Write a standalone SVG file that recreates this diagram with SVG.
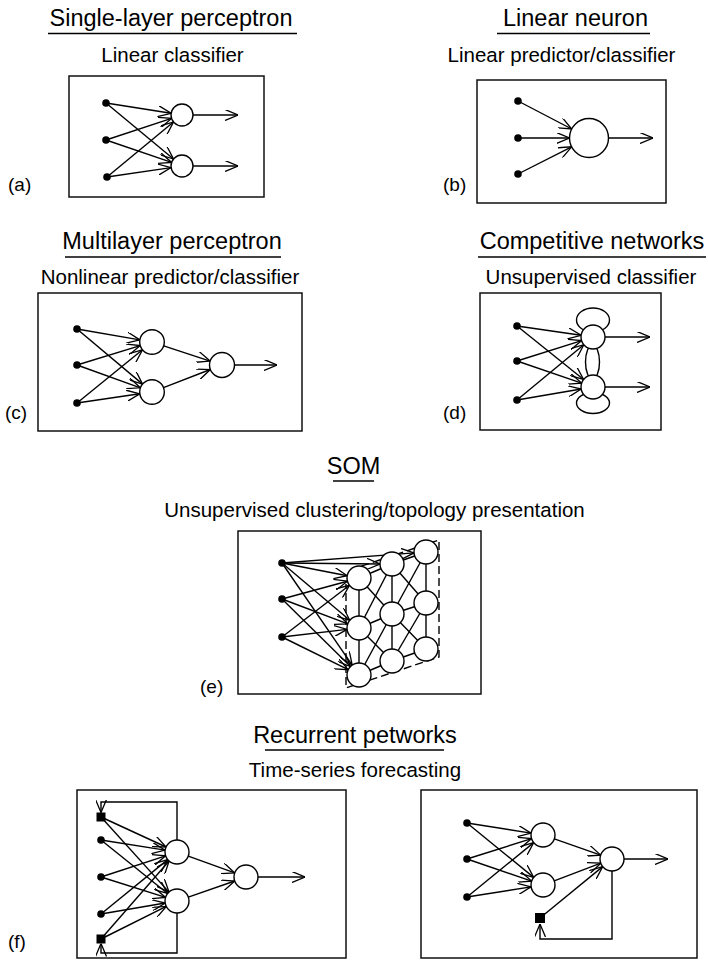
<svg xmlns="http://www.w3.org/2000/svg" width="708" height="969" viewBox="0 0 708 969">
<style>
text{font-family:"Liberation Sans",Arial,sans-serif;fill:#000}
.t{font-size:23.5px;text-anchor:middle}
.s{font-size:20.5px;text-anchor:middle}
.l{font-size:19px}
.ul{stroke:#000;stroke-width:1.3}
.box{fill:#fff;stroke:#111;stroke-width:1.5}
.c{fill:#fff;stroke:#000;stroke-width:1.4}
.d{fill:#000}
.e line,.e path{stroke:#000;stroke-width:1.4;fill:none}
.a{marker-end:url(#ah)}
.dash{stroke:#000;stroke-width:1.8;fill:none;stroke-dasharray:8 4}
</style>
<defs>
<marker id="ah" markerUnits="userSpaceOnUse" viewBox="0 0 13 11" markerWidth="13" markerHeight="11" refX="13" refY="5.5" orient="auto">
<path d="M0,0 L13,5.5 L0,11" fill="none" stroke="#000" stroke-width="1.3"/>
</marker>
</defs>
<rect width="708" height="969" fill="#fff"/>

<!-- titles -->
<g id="titles">
<text class="t" x="171" y="26">Single-layer perceptron</text>
<line class="ul" x1="48" y1="33.5" x2="297" y2="33.5"/>
<text class="s" x="172.5" y="62">Linear classifier</text>
<text class="t" x="575.5" y="26">Linear neuron</text>
<line class="ul" x1="497" y1="33.5" x2="650" y2="33.5"/>
<text class="s" x="561.5" y="62">Linear predictor/classifier</text>
<text class="t" x="172" y="249">Multilayer perceptron</text>
<line class="ul" x1="65" y1="257" x2="281" y2="257"/>
<text class="s" x="170" y="284">Nonlinear predictor/classifier</text>
<text class="t" x="592" y="249">Competitive networks</text>
<line class="ul" x1="478" y1="257" x2="706" y2="257"/>
<text class="s" x="591" y="284">Unsupervised classifier</text>
<text class="t" x="353.5" y="474">SOM</text>
<line class="ul" x1="333" y1="481" x2="374" y2="481"/>
<text class="s" x="374.5" y="517">Unsupervised clustering/topology presentation</text>
<text class="t" x="355" y="743">Recurrent petworks</text>
<line class="ul" x1="265" y1="750" x2="444" y2="750"/>
<text class="s" x="355" y="777">Time-series forecasting</text>
<text class="l" x="8" y="191">(a)</text>
<text class="l" x="443" y="191">(b)</text>
<text class="l" x="5" y="419">(c)</text>
<text class="l" x="443" y="419">(d)</text>
<text class="l" x="200" y="693">(e)</text>
<text class="l" x="8" y="948">(f)</text>
</g>

<!-- boxes -->
<g id="boxes">
<rect class="box" x="69" y="76" width="195" height="121"/>
<rect class="box" x="477" y="80" width="189" height="123"/>
<rect class="box" x="38" y="293" width="264" height="138"/>
<rect class="box" x="480" y="293" width="181" height="137"/>
<rect class="box" x="238" y="531" width="243" height="163"/>
<rect class="box" x="77" y="790" width="269" height="168"/>
<rect class="box" x="421" y="790" width="276" height="168"/>
</g>

<!-- connectors -->
<g id="connectors" class="e">
<!-- (a) -->
<line class="a" x1="106" y1="103" x2="171.1" y2="113.3"/>
<line class="a" x1="106" y1="103" x2="173.5" y2="159"/>
<line class="a" x1="106" y1="140" x2="171.5" y2="118.4"/>
<line class="a" x1="106" y1="140" x2="171.6" y2="162.4"/>
<line class="a" x1="107" y1="177" x2="173.5" y2="122"/>
<line class="a" x1="107" y1="177" x2="171.1" y2="167.6"/>
<line class="a" x1="193" y1="115" x2="238" y2="115"/>
<line class="a" x1="193" y1="166" x2="238" y2="166"/>
<!-- (b) -->
<line class="a" x1="518" y1="101" x2="571.7" y2="129"/>
<line class="a" x1="518" y1="138" x2="569.5" y2="138"/>
<line class="a" x1="518" y1="174" x2="571.6" y2="146.8"/>
<line class="a" x1="608.5" y1="138" x2="653" y2="138"/>
<!-- (c) -->
<line class="a" x1="77" y1="329" x2="139.9" y2="339.9"/>
<line class="a" x1="77" y1="329" x2="142.6" y2="384.1"/>
<line class="a" x1="77" y1="365" x2="140.2" y2="345.6"/>
<line class="a" x1="77" y1="365" x2="140.4" y2="387.8"/>
<line class="a" x1="77" y1="403" x2="142.5" y2="349.8"/>
<line class="a" x1="77" y1="403" x2="139.8" y2="393.8"/>
<line class="a" x1="163.7" y1="345.8" x2="210.1" y2="361.1"/>
<line class="a" x1="163.5" y1="387.6" x2="210.3" y2="369.5"/>
<line class="a" x1="234.5" y1="365" x2="277" y2="365"/>
<!-- (d) -->
<ellipse cx="593" cy="320" rx="16.5" ry="12" fill="none" stroke="#000" stroke-width="1.4"/>
<ellipse cx="593" cy="403" rx="16.5" ry="10.5" fill="none" stroke="#000" stroke-width="1.4"/>
<ellipse cx="592.5" cy="362" rx="7" ry="17" fill="none" stroke="#000" stroke-width="1.4"/>
<line class="a" x1="517" y1="326" x2="581.1" y2="335.3"/>
<line class="a" x1="517" y1="326" x2="583.6" y2="379.5"/>
<line class="a" x1="517" y1="361" x2="581.6" y2="340.6"/>
<line class="a" x1="517" y1="361" x2="581.6" y2="383.1"/>
<line class="a" x1="517" y1="400" x2="583.8" y2="344.7"/>
<line class="a" x1="517" y1="400" x2="581.2" y2="389"/>
<line class="a" x1="605" y1="337" x2="650" y2="337"/>
<line class="a" x1="605" y1="387" x2="650" y2="387"/>
<!-- (e) dashed outline -->
<path class="dash" d="M350,570 L439,540 L439,657 L346,688 L346,584"/>
<!-- (e) grid -->
<line x1="359" y1="578" x2="359" y2="675"/>
<line x1="392" y1="564" x2="392" y2="661"/>
<line x1="426" y1="552" x2="426" y2="649"/>
<line x1="359" y1="578" x2="392" y2="564"/>
<line x1="359" y1="628" x2="392" y2="614"/>
<line x1="359" y1="675" x2="392" y2="661"/>
<line x1="392" y1="564" x2="426" y2="552"/>
<line x1="392" y1="614" x2="426" y2="603"/>
<line x1="392" y1="661" x2="426" y2="649"/>
<line x1="359" y1="578" x2="392" y2="614"/>
<line x1="359" y1="628" x2="392" y2="564"/>
<line x1="359" y1="628" x2="392" y2="661"/>
<line x1="359" y1="675" x2="392" y2="614"/>
<line x1="392" y1="564" x2="426" y2="603"/>
<line x1="392" y1="614" x2="426" y2="552"/>
<line x1="392" y1="614" x2="426" y2="649"/>
<line x1="392" y1="661" x2="426" y2="603"/>
<!-- (e) inputs -->
<line class="a" x1="282" y1="563" x2="347.2" y2="575.7"/>
<line class="a" x1="282" y1="563" x2="349.8" y2="620.3"/>
<line class="a" x1="282" y1="563" x2="352.2" y2="665.1"/>
<line class="a" x1="282" y1="563" x2="380" y2="564"/>
<line class="a" x1="282" y1="563" x2="414" y2="552.9"/>
<line class="a" x1="282" y1="599" x2="347.4" y2="581.2"/>
<line class="a" x1="282" y1="599" x2="347.8" y2="623.8"/>
<line class="a" x1="282" y1="599" x2="350.5" y2="666.6"/>
<line class="a" x1="282" y1="637" x2="349.5" y2="585.3"/>
<line class="a" x1="282" y1="637" x2="347.1" y2="629.4"/>
<line class="a" x1="282" y1="637" x2="348.2" y2="669.7"/>
<!-- (f) left -->
<path class="a" d="M177,840 L177,802 L101,802 L101,812.5"/>
<path class="a" d="M177,913 L177,953 L101,953 L101,943.5"/>
<line class="a" x1="101" y1="817" x2="166.1" y2="847"/>
<line class="a" x1="101" y1="817" x2="169" y2="892.1"/>
<line class="a" x1="101" y1="840" x2="165.1" y2="850.1"/>
<line class="a" x1="101" y1="840" x2="167.6" y2="893.5"/>
<line class="a" x1="101" y1="877" x2="165.6" y2="855.8"/>
<line class="a" x1="101" y1="877" x2="165.6" y2="897.4"/>
<line class="a" x1="101" y1="914" x2="167.7" y2="859.6"/>
<line class="a" x1="101" y1="914" x2="165.2" y2="903"/>
<line class="a" x1="101" y1="939" x2="169.1" y2="861"/>
<line class="a" x1="101" y1="939" x2="166.3" y2="906.4"/>
<line class="a" x1="188.3" y1="856.1" x2="234.7" y2="872.9"/>
<line class="a" x1="188.3" y1="897.1" x2="234.7" y2="881"/>
<line class="a" x1="258" y1="877" x2="305" y2="877"/>
<!-- (f) right -->
<line class="a" x1="467" y1="823" x2="531.1" y2="833.1"/>
<line class="a" x1="467" y1="823" x2="533.7" y2="877.4"/>
<line class="a" x1="467" y1="859" x2="531.6" y2="838.6"/>
<line class="a" x1="467" y1="859" x2="531.6" y2="881.1"/>
<line class="a" x1="467" y1="897" x2="533.7" y2="842.6"/>
<line class="a" x1="467" y1="897" x2="531.1" y2="886.9"/>
<line class="a" x1="554.3" y1="838.9" x2="600.7" y2="855.1"/>
<line class="a" x1="554.2" y1="880.8" x2="600.8" y2="863.2"/>
<line class="a" x1="540" y1="918" x2="602.7" y2="866.6"/>
<path class="a" d="M612,871 L612,939 L540,939 L540,924"/>
<line class="a" x1="624" y1="859" x2="668" y2="859"/>
</g>

<!-- nodes -->
<g id="panel-a">
<circle class="d" cx="106" cy="103" r="3.8"/><circle class="d" cx="106" cy="140" r="3.8"/><circle class="d" cx="107" cy="177" r="3.8"/>
<circle class="c" cx="182" cy="115" r="11"/><circle class="c" cx="182" cy="166" r="11"/>
</g>
<g id="panel-b">
<circle class="d" cx="518" cy="101" r="3.8"/><circle class="d" cx="518" cy="138" r="3.8"/><circle class="d" cx="518" cy="174" r="3.8"/>
<circle class="c" cx="589" cy="138" r="19.5"/>
</g>
<g id="panel-c">
<circle class="d" cx="77" cy="329" r="3.8"/><circle class="d" cx="77" cy="365" r="3.8"/><circle class="d" cx="77" cy="403" r="3.8"/>
<circle class="c" cx="152" cy="342" r="12.3"/><circle class="c" cx="152" cy="392" r="12.3"/>
<circle class="c" cx="222" cy="365" r="12.5"/>
</g>
<g id="panel-d">
<circle class="d" cx="517" cy="326" r="3.8"/><circle class="d" cx="517" cy="361" r="3.8"/><circle class="d" cx="517" cy="400" r="3.8"/>
<circle class="c" cx="593" cy="337" r="12"/><circle class="c" cx="593" cy="387" r="12"/>
</g>
<g id="panel-e">
<circle class="d" cx="282" cy="563" r="3.8"/><circle class="d" cx="282" cy="599" r="3.8"/><circle class="d" cx="282" cy="637" r="3.8"/>
<circle class="c" cx="359" cy="578" r="12"/><circle class="c" cx="359" cy="628" r="12"/><circle class="c" cx="359" cy="675" r="12"/>
<circle class="c" cx="392" cy="564" r="12"/><circle class="c" cx="392" cy="614" r="12"/><circle class="c" cx="392" cy="661" r="12"/>
<circle class="c" cx="426" cy="552" r="12"/><circle class="c" cx="426" cy="603" r="12"/><circle class="c" cx="426" cy="649" r="12"/>
</g>
<g id="panel-f-left">
<rect class="d" x="96.5" y="812.5" width="9" height="9"/>
<circle class="d" cx="101" cy="840" r="3.8"/><circle class="d" cx="101" cy="877" r="3.8"/><circle class="d" cx="101" cy="914" r="3.8"/>
<rect class="d" x="96.5" y="934.5" width="9" height="9"/>
<circle class="c" cx="177" cy="852" r="12"/><circle class="c" cx="177" cy="901" r="12"/>
<circle class="c" cx="246" cy="877" r="12"/>
</g>
<g id="panel-f-right">
<circle class="d" cx="467" cy="823" r="3.8"/><circle class="d" cx="467" cy="859" r="3.8"/><circle class="d" cx="467" cy="897" r="3.8"/>
<circle class="c" cx="543" cy="835" r="12"/><circle class="c" cx="543" cy="885" r="12"/>
<circle class="c" cx="612" cy="859" r="12"/>
<rect class="d" x="535" y="913" width="10" height="10"/>
</g>
</svg>
